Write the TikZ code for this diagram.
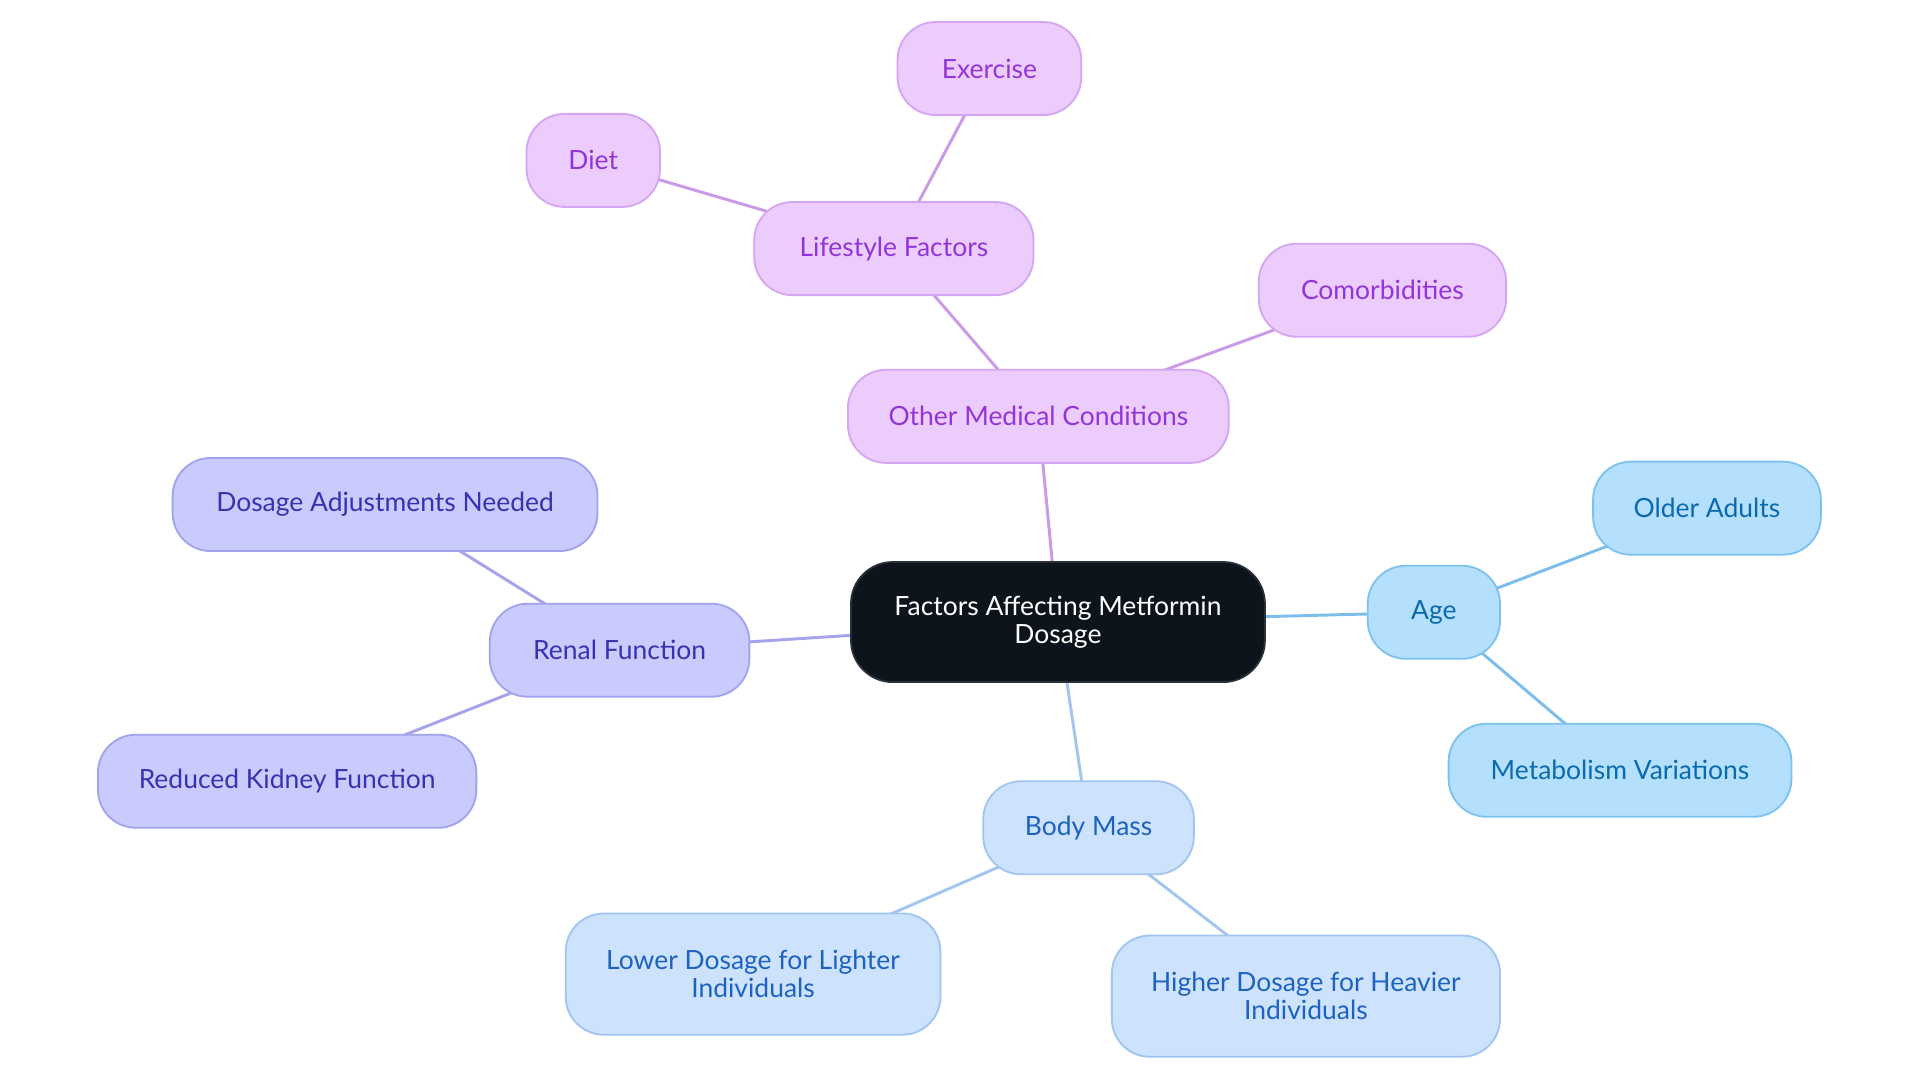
\documentclass[tikz,border=0pt]{standalone}
\usepackage{fontspec}
\setmainfont{Lato}
\usetikzlibrary{backgrounds}
\definecolor{pfill}{HTML}{EBCCFD}
\definecolor{pdraw}{HTML}{D4A5F2}
\definecolor{ptext}{HTML}{9235D8}
\definecolor{pedge}{HTML}{C99AE8}
\definecolor{ifill}{HTML}{C8CBFC}
\definecolor{idraw}{HTML}{A1A3EE}
\definecolor{itext}{HTML}{3A31B0}
\definecolor{iedge}{HTML}{A4A3EC}
\definecolor{sfill}{HTML}{B4E0FD}
\definecolor{sdraw}{HTML}{7DC2EF}
\definecolor{stext}{HTML}{0B6AAE}
\definecolor{sedge}{HTML}{7DBDEB}
\definecolor{lfill}{HTML}{CDE3FD}
\definecolor{ldraw}{HTML}{A0C5F0}
\definecolor{ltext}{HTML}{1E62BF}
\definecolor{ledge}{HTML}{A3C6EF}
\definecolor{cfill}{HTML}{0D141B}
\definecolor{cdraw}{HTML}{2A3038}
\tikzset{
  box/.style={rectangle, rounded corners=31pt, inner sep=0pt, line width=1.5pt,
    minimum height=76pt, align=center, font=\fontsize{21.6}{22.6}\selectfont},
  pbox/.style={box, fill=pfill, draw=pdraw, text=ptext},
  ibox/.style={box, fill=ifill, draw=idraw, text=itext},
  sbox/.style={box, fill=sfill, draw=sdraw, text=stext},
  lbox/.style={box, fill=lfill, draw=ldraw, text=ltext},
  cbox/.style={box, fill=cfill, draw=cdraw, text=white, rounded corners=34pt},
  link/.style={line width=2.4pt},
}
\begin{document}
\begin{tikzpicture}[x=1pt,y=-1pt]
\useasboundingbox (0,0) rectangle (1568,884.4);
\node[cbox, minimum width=338pt, minimum height=98pt] (c) at (864,508) {Factors Affecting Metformin\\Dosage};
\node[pbox, minimum width=311pt] (omc) at (848,340) {Other Medical Conditions};
\node[pbox, minimum width=228pt] (life) at (730,203) {Lifestyle Factors};
\node[pbox, minimum width=150pt] (ex) at (808,56) {Exercise};
\node[pbox, minimum width=109pt] (diet) at (484.5,131) {Diet};
\node[pbox, minimum width=202pt] (com) at (1129,237) {Comorbidities};
\node[ibox, minimum width=347pt] (dan) at (314.5,412) {Dosage Adjustments Needed};
\node[ibox, minimum width=212pt] (ren) at (506,531) {Renal Function};
\node[ibox, minimum width=309pt] (rkf) at (234.5,638) {Reduced Kidney Function};
\node[sbox, minimum width=108pt] (age) at (1171,500) {Age};
\node[sbox, minimum width=186pt] (old) at (1394,415) {Older Adults};
\node[sbox, minimum width=280pt] (met) at (1323,629) {Metabolism Variations};
\node[lbox, minimum width=172pt] (bm) at (889,676) {Body Mass};
\node[lbox, minimum width=306pt, minimum height=99pt] (low) at (615,795.5) {Lower Dosage for Lighter\\Individuals};
\node[lbox, minimum width=317pt, minimum height=99pt] (high) at (1066.5,813.5) {Higher Dosage for Heavier\\Individuals};
\begin{scope}[on background layer]
\draw[link, pedge] (c.center) -- (omc.center);
\draw[link, pedge] (omc.center) -- (life.center);
\draw[link, pedge] (omc.center) -- (com.center);
\draw[link, pedge] (life.center) -- (ex.center);
\draw[link, pedge] (life.center) -- (diet.center);
\draw[link, iedge] (c.center) -- (ren.center);
\draw[link, iedge] (ren.center) -- (dan.center);
\draw[link, iedge] (ren.center) -- (rkf.center);
\draw[link, sedge] (c.center) -- (age.center);
\draw[link, sedge] (age.center) -- (old.center);
\draw[link, sedge] (age.center) -- (met.center);
\draw[link, ledge] (c.center) -- (bm.center);
\draw[link, ledge] (bm.center) -- (low.center);
\draw[link, ledge] (bm.center) -- (high.center);
\end{scope}
\end{tikzpicture}
\end{document}
